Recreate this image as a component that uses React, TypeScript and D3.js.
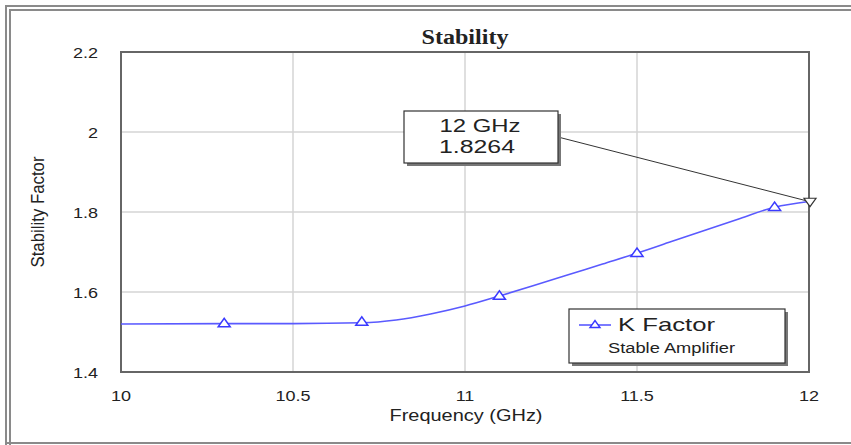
import React from "react";
import * as d3 from "d3";

// K factor of the stable amplifier versus frequency
const freqGHz = [10.0, 10.3, 10.5, 10.7, 10.8, 10.9, 11.0, 11.1, 11.2, 11.3, 11.4, 11.5, 11.6, 11.7, 11.8, 11.9, 12.0];
const kFactor = [1.52, 1.521, 1.521, 1.523, 1.53, 1.545, 1.565, 1.59, 1.616, 1.643, 1.67, 1.697, 1.726, 1.755, 1.784, 1.812, 1.8264];
const markerFreq = [10.3, 10.7, 11.1, 11.5, 11.9];
const markerK = [1.521, 1.525, 1.59, 1.697, 1.812];
const xTicks = [10, 10.5, 11, 11.5, 12];
const xTickLabels = ["10", "10.5", "11", "11.5", "12"];
const yTicks = [1.4, 1.6, 1.8, 2.0, 2.2];
const yTickLabels = ["1.4", "1.6", "1.8", "2", "2.2"];
const markedFreq = 12;
const markedK = 1.8264;

const W = 851;
const H = 445;
const left = 121;
const right = 809;
const top = 52;
const bottom = 372;
const sans = "'Liberation Sans', Arial, sans-serif";
const serif = "'Liberation Serif', 'Times New Roman', serif";

type TProps = {
  x: number;
  y: number;
  size: number;
  sx?: number;
  anchor?: "start" | "middle" | "end";
  bold?: boolean;
  family?: string;
  length?: number;
  children: React.ReactNode;
};

// Text drawn slightly widened, as in the original plotting tool's output
function SText({ x, y, size, sx = 1.2, anchor = "start", bold, family = sans, length, children }: TProps) {
  return (
    <text
      transform={`translate(${x},${y}) scale(${sx},1)`}
      textAnchor={anchor}
      fontFamily={family}
      fontSize={size}
      fontWeight={bold ? "bold" : "normal"}
      fill="#222"
      textLength={length}
      lengthAdjust={length ? "spacingAndGlyphs" : undefined}
    >
      {children}
    </text>
  );
}

export default function App() {
  const x = d3.scaleLinear().domain([10, 12]).range([left, right]);
  const y = d3.scaleLinear().domain([1.4, 2.2]).range([bottom, top]);
  const line = d3
    .line<number>()
    .x((_, i) => x(freqGHz[i]))
    .y((d) => y(d))
    .curve(d3.curveMonotoneX);
  const tri = (cx: number, cy: number, s: number, down = false) => {
    const h = s * 1.4;
    return down
      ? `M${cx - s},${cy - h / 2}L${cx + s},${cy - h / 2}L${cx},${cy + h / 2}Z`
      : `M${cx - s},${cy + h / 2}L${cx + s},${cy + h / 2}L${cx},${cy - h / 2}Z`;
  };
  const mx = x(markedFreq);
  const my = y(markedK);
  const box = { x: 404, y: 111, w: 154, h: 52 };
  const leg = { x: 569, y: 309, w: 216, h: 54 };

  return (
    <svg width={W} height={H} style={{ position: "absolute", left: 0, top: 0, background: "#fff" }}>
      {/* outer frame */}
      <rect x={0} y={0} width={W} height={H} fill="#fff" />
      <path d={`M6,${H + 5}V6H${W + 5}`} fill="none" stroke="#8a8a8a" strokeWidth={2} />
      <path d={`M10,${H + 5}V10H${W + 5}`} fill="none" stroke="#8a8a8a" strokeWidth={2} />
      <path d={`M6,${H - 2}H${W + 5}`} fill="none" stroke="#8a8a8a" strokeWidth={2} />

      <SText x={465} y={44} size={20} sx={1} anchor="middle" bold family={serif} length={87}>
        Stability
      </SText>

      {/* grid */}
      {xTicks.slice(1, -1).map((t) => (
        <line key={"gx" + t} x1={x(t)} x2={x(t)} y1={top} y2={bottom} stroke="#d4d4d4" strokeWidth={1.5} />
      ))}
      {yTicks.slice(1, -1).map((t) => (
        <line key={"gy" + t} x1={left} x2={right} y1={y(t)} y2={y(t)} stroke="#d4d4d4" strokeWidth={1.5} />
      ))}

      {/* plot frame */}
      <rect x={left} y={top} width={right - left} height={bottom - top} fill="none" stroke="#666" strokeWidth={2} />

      {/* tick labels */}
      {yTicks.map((t, i) => (
        <SText key={"ty" + t} x={98} y={y(t) + 6} size={15} anchor="end">
          {yTickLabels[i]}
        </SText>
      ))}
      {xTicks.map((t, i) => (
        <SText key={"tx" + t} x={x(t)} y={401} size={15} anchor="middle">
          {xTickLabels[i]}
        </SText>
      ))}
      <SText x={466} y={421} size={16.5} sx={1} anchor="middle" length={153}>
        Frequency (GHz)
      </SText>
      <text
        transform="translate(44,212) rotate(-90) scale(1,1.15)"
        textAnchor="middle"
        fontFamily={sans}
        fontSize={16}
        fill="#222"
        textLength={111}
        lengthAdjust="spacingAndGlyphs"
      >
        Stability Factor
      </text>

      {/* curve */}
      <path d={line(kFactor) ?? ""} fill="none" stroke="#5a5aff" strokeWidth={1.6} />
      {markerFreq.map((f, i) => (
        <path key={"m" + f} d={tri(x(f), y(markerK[i]) - 1, 6)} fill="#fff" stroke="#3a3aff" strokeWidth={1.5} />
      ))}

      {/* marker annotation */}
      <line x1={box.x + box.w} y1={137} x2={mx} y2={my} stroke="#333" strokeWidth={1} />
      <path d={tri(mx + 1, my + 1, 6, true)} fill="#fff" stroke="#333" strokeWidth={1.2} />
      <rect x={box.x + 3} y={box.y + 3} width={box.w} height={box.h} fill="#777" />
      <rect x={box.x} y={box.y} width={box.w} height={box.h} fill="#fff" stroke="#333" strokeWidth={1.2} />
      <SText x={480} y={132} size={18} sx={1} anchor="middle" length={81}>
        12 GHz
      </SText>
      <SText x={477} y={153} size={18} sx={1} anchor="middle" length={76}>
        1.8264
      </SText>

      {/* legend */}
      <rect x={leg.x + 3} y={leg.y + 3} width={leg.w} height={leg.h} fill="#777" />
      <rect x={leg.x} y={leg.y} width={leg.w} height={leg.h} fill="#fff" stroke="#333" strokeWidth={1.2} />
      <line x1={leg.x + 10} x2={leg.x + 42} y1={325} y2={325} stroke="#5a5aff" strokeWidth={1.6} />
      <path d={tri(leg.x + 26, 324, 5)} fill="#fff" stroke="#3a3aff" strokeWidth={1.4} />
      <SText x={618} y={331} size={18.5} sx={1} length={97}>
        K Factor
      </SText>
      <SText x={608} y={353} size={14} sx={1} length={127}>
        Stable Amplifier
      </SText>
    </svg>
  );
}
